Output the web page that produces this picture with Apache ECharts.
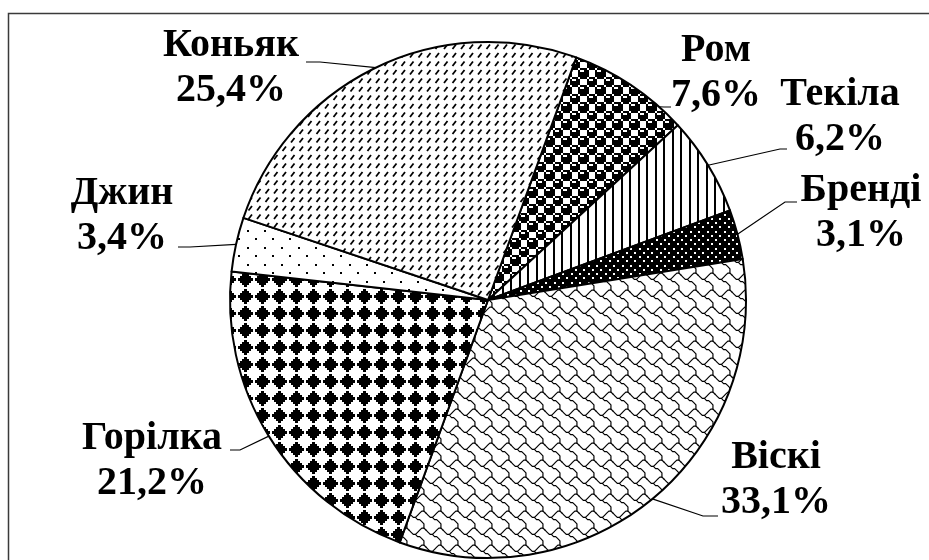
<!DOCTYPE html>
<html><head><meta charset="utf-8">
<script src="https://cdn.jsdelivr.net/npm/echarts@6/dist/echarts.min.js"></script>
<style>html,body{margin:0;padding:0;background:#fff}#c{width:929px;height:560px}</style>
</head><body><div id="c"></div>
<script>
// ---- data ----
const categories = ['Ром', 'Текіла', 'Бренді', 'Віскі', 'Горілка', 'Джин', 'Коньяк'];
const shares = [7.6, 6.2, 3.1, 33.1, 21.2, 3.4, 25.4];

// ---- fill patterns ----
const T = 17;            // tile size
const U = T / 8;         // one pattern unit
function newTile(bg) {
  const cv = document.createElement('canvas');
  cv.width = T; cv.height = T;
  const ctx = cv.getContext('2d');
  ctx.fillStyle = bg; ctx.fillRect(0, 0, T, T);
  return [cv, ctx];
}
function bitmapTile(rows, bg, fg) {
  const [cv, ctx] = newTile(bg);
  ctx.fillStyle = fg;
  const b = i => Math.round(i * U);
  for (let r = 0; r < 8; r++)
    for (let c = 0; c < 8; c++)
      if (rows[r][c] === '1') ctx.fillRect(b(c), b(r), b(c + 1) - b(c), b(r + 1) - b(r));
  return cv;
}
// thin-line rendering of a bitmap: joins neighbouring set cells with 1px strokes
function thinTile(rows, lw) {
  const [cv, ctx] = newTile('#fff');
  ctx.strokeStyle = '#000'; ctx.lineWidth = lw; ctx.lineCap = 'round';
  const on = (c, r) => rows[((r % 8) + 8) % 8][((c % 8) + 8) % 8] === '1';
  const segs = [];
  for (let r = 0; r < 8; r++) for (let c = 0; c < 8; c++) {
    if (!on(c, r)) continue;
    if (on(c + 1, r)) segs.push([c, r, c + 1, r]);
    if (on(c, r + 1)) segs.push([c, r, c, r + 1]);
    if (on(c + 1, r + 1) && !on(c + 1, r) && !on(c, r + 1)) segs.push([c, r, c + 1, r + 1]);
    if (on(c - 1, r + 1) && !on(c - 1, r) && !on(c, r + 1)) segs.push([c, r, c - 1, r + 1]);
  }
  for (const ox of [-T, 0, T]) for (const oy of [-T, 0, T]) {
    ctx.beginPath();
    segs.forEach(([a, b, c, d]) => {
      ctx.moveTo((a + 0.5) * U + ox, (b + 0.5) * U + oy);
      ctx.lineTo((c + 0.5) * U + ox, (d + 0.5) * U + oy);
    });
    ctx.stroke();
  }
  return cv;
}
const patternMakers = {
  'Ром': () => bitmapTile(['01110111','10011000','11111000','11111000','01110111','10001001','10001111','10001111'], '#fff', '#000'),
  'Текіла': () => bitmapTile(['10001000','10001000','10001000','10001000','10001000','10001000','10001000','10001000'], '#fff', '#000'),
  'Бренді': () => {
    const [cv, ctx] = newTile('#000');
    ctx.fillStyle = '#fff';
    [[1, 1], [9.5, 1], [5.25, 5.25], [13.75, 5.25], [1, 9.5], [9.5, 9.5], [5.25, 13.75], [13.75, 13.75]]
      .forEach(([x, y]) => ctx.fillRect(Math.round(x), Math.round(y), 2, 2));
    return cv;
  },
  'Віскі': () => thinTile(['00000011','10000100','01001000','00110000','00001100','00000010','00000001','00000001'], 1.2),
  'Горілка': () => bitmapTile(['00010000','00111000','01111100','11111110','01111100','00111000','00010000','00000000'], '#fff', '#000'),
  'Джин': () => bitmapTile(['10000000','00000000','00000000','00000000','00001000','00000000','00000000','00000000'], '#fff', '#000'),
  'Коньяк': () => {
    const [cv, ctx] = newTile('#fff');
    ctx.strokeStyle = '#000'; ctx.lineWidth = 1.8;
    [[0, 0], [8.5, 0], [0, 8.5], [8.5, 8.5]].forEach(([ox, oy]) => {
      ctx.beginPath();
      ctx.moveTo(ox + 2, oy + 6.5);
      ctx.lineTo(ox + 5.5, oy + 2);
      ctx.stroke();
    });
    return cv;
  }
};

// ---- label layout (text block centre, leader start, leader bend) ----
const labelLayoutMap = {
  'Коньяк': { x: 231, y: 68,  start: [306, 62],  bend: [320, 62] },
  'Ром':    { x: 716, y: 73,  start: [671, 107], bend: [664, 107], arcAngle: 41.5 },
  'Текіла': { x: 840, y: 117, start: [787, 149], bend: [780, 149] },
  'Бренді': { x: 861, y: 213, start: [797, 202], bend: [785, 202] },
  'Віскі':  { x: 776, y: 480, start: [718, 516], bend: [703, 516] },
  'Горілка':{ x: 152, y: 461, start: [230, 450], bend: [240, 450] },
  'Джин':   { x: 122, y: 216, start: [178, 247], bend: [190, 247] }
};

const CX = 488, CY = 300, R = 258;

const chart = echarts.init(document.getElementById('c'), null, { renderer: 'canvas' });
chart.setOption({
  animation: false,
  backgroundColor: '#fff',
  graphic: [{
    type: 'rect', z: -10, silent: true,
    shape: { x: 8.5, y: 13.5, width: 1000, height: 1000 },
    style: { fill: 'none', stroke: '#3a3a3a', lineWidth: 1.5 }
  }],
  series: [{
    type: 'pie',
    center: [CX, CY],
    radius: R,
    startAngle: 70,
    clockwise: true,
    silent: true,
    avoidLabelOverlap: false,
    itemStyle: { borderColor: '#000', borderWidth: 2 },
    label: {
      show: true,
      position: 'outside',
      width: 220,
      overflow: 'none',
      fontFamily: 'Liberation Serif',
      fontWeight: 'bold',
      fontSize: 40,
      lineHeight: 45,
      color: '#000',
      align: 'center',
      formatter: p => p.name + '\n' + p.value.toFixed(1).replace('.', ',') + '%'
    },
    labelLine: { show: true, smooth: false, lineStyle: { color: '#000', width: 1.2 } },
    labelLayout: function (params) {
      const name = categories[params.dataIndex];
      const L = labelLayoutMap[name];
      let arc;
      if (L.arcAngle != null) {
        const a = L.arcAngle * Math.PI / 180;
        arc = [CX + R * Math.sin(a), CY - R * Math.cos(a)];
      } else if (params.labelLinePoints) {
        arc = params.labelLinePoints[0];
      }
      return {
        x: L.x, y: L.y, align: 'center', verticalAlign: 'middle',
        labelLinePoints: [arc, L.bend, L.start]
      };
    },
    data: categories.map((c, i) => ({
      name: c, value: shares[i],
      itemStyle: { color: { image: patternMakers[c](), repeat: 'repeat' } }
    }))
  }]
});
</script>
</body></html>
